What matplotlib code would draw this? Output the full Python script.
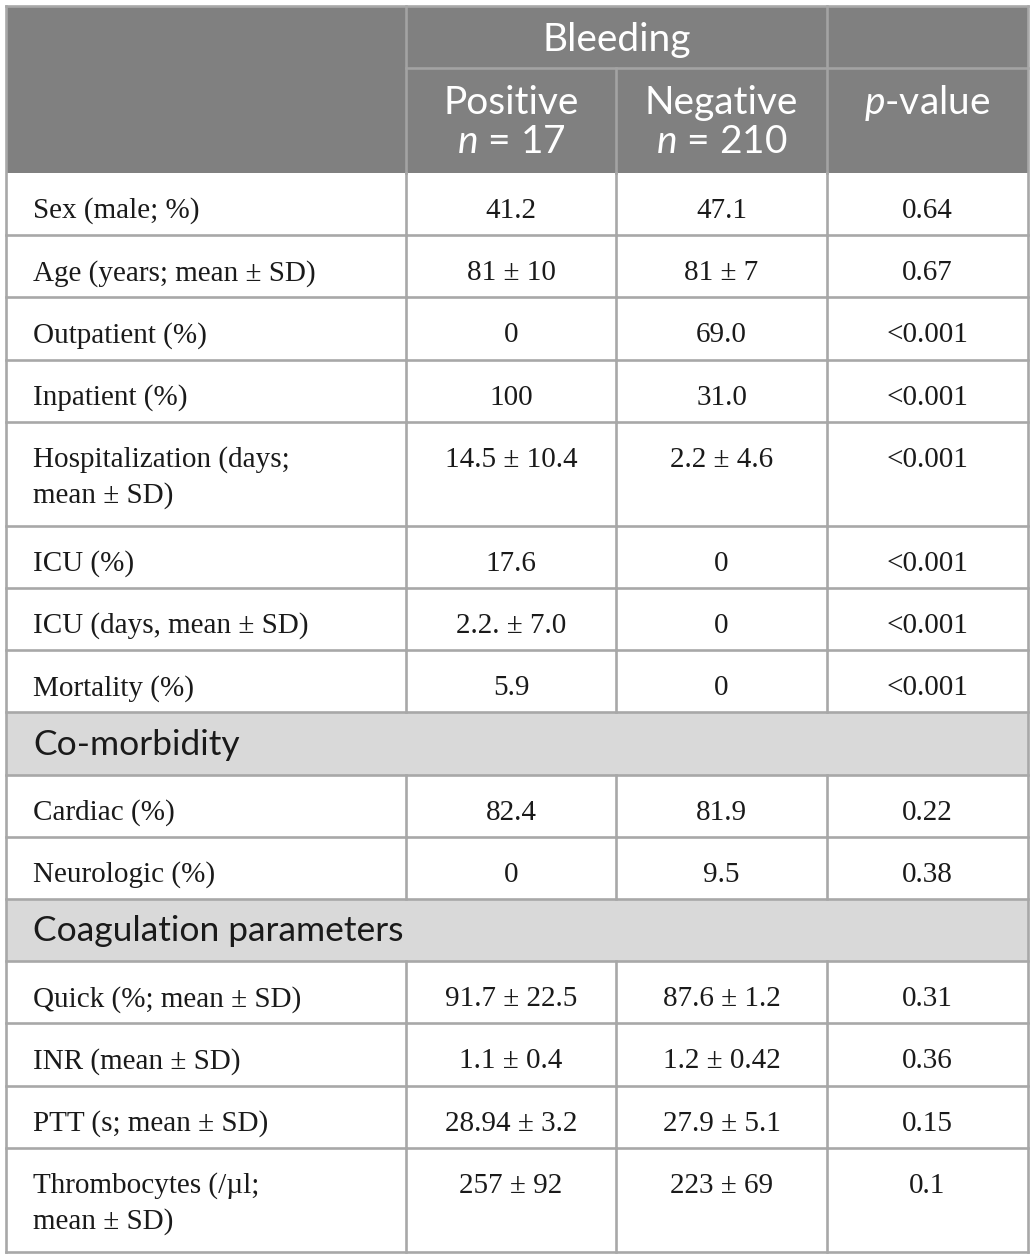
import matplotlib
matplotlib.use("Agg")
import matplotlib.pyplot as plt
from matplotlib.patches import Rectangle

# ---- table content ----
group_label = "Bleeding"
col_heads = ["Positive", "Negative"]
col_ns = ["17", "210"]

row_labels = [
    "Sex (male; %)",
    "Age (years; mean \u00b1 SD)",
    "Outpatient (%)",
    "Inpatient (%)",
    "Hospitalization (days;\nmean \u00b1 SD)",
    "ICU (%)",
    "ICU (days, mean \u00b1 SD)",
    "Mortality (%)",
    "Co-morbidity",
    "Cardiac (%)",
    "Neurologic (%)",
    "Coagulation parameters",
    "Quick (%; mean \u00b1 SD)",
    "INR (mean \u00b1 SD)",
    "PTT (s; mean \u00b1 SD)",
    "Thrombocytes (/\u00b5l;\nmean \u00b1 SD)",
]
positive = ["41.2", "81 \u00b1 10", "0", "100", "14.5 \u00b1 10.4", "17.6", "2.2. \u00b1 7.0", "5.9",
            None, "82.4", "0", None,
            "91.7 \u00b1 22.5", "1.1 \u00b1 0.4", "28.94 \u00b1 3.2", "257 \u00b1 92"]
negative = ["47.1", "81 \u00b1 7", "69.0", "31.0", "2.2 \u00b1 4.6", "0", "0", "0",
            None, "81.9", "9.5", None,
            "87.6 \u00b1 1.2", "1.2 \u00b1 0.42", "27.9 \u00b1 5.1", "223 \u00b1 69"]
p_values = ["0.64", "0.67", "<0.001", "<0.001", "<0.001", "<0.001", "<0.001", "<0.001",
            None, "0.22", "0.38", None,
            "0.31", "0.36", "0.15", "0.1"]

# ---- layout (pixels) ----
W, H = 1035, 1258
col_x = [6, 406, 616, 827, 1028]
top, head1, head2 = 6, 68, 173
single_h, double_h = 62.2, 104

header_bg = "#808080"
section_bg = "#d9d9d9"
line_col = "#a8a8a8"
head_line = "#a3a3a3"
lw = 1.9

plt.rcParams["mathtext.fontset"] = "custom"
plt.rcParams["mathtext.rm"] = "Lato"
plt.rcParams["mathtext.it"] = "Lato:italic"

sans = "Lato"
serif = "Liberation Serif"
txt_col = "#1a1a1a"

fig = plt.figure(figsize=(W / 100, H / 100), dpi=100)
ax = fig.add_axes([0, 0, 1, 1])
ax.set_xlim(0, W)
ax.set_ylim(H, 0)
ax.axis("off")

# header background
ax.add_patch(Rectangle((col_x[0], top), col_x[-1] - col_x[0], head2 - top,
                       facecolor=header_bg, edgecolor="none"))

# header grid
ax.plot([col_x[1], col_x[-1]], [head1, head1], color=head_line, lw=lw)
for x in (col_x[1], col_x[3]):
    ax.plot([x, x], [top, head2], color=head_line, lw=lw)
ax.plot([col_x[2], col_x[2]], [head1, head2], color=head_line, lw=lw)

hfs = 28
ax.text((col_x[1] + col_x[3]) / 2, (top + head1) / 2 + 3, group_label, color="white",
        fontsize=hfs, family=sans, ha="center", va="center")
for i, (name, n) in enumerate(zip(col_heads, col_ns)):
    cx = (col_x[i + 1] + col_x[i + 2]) / 2
    ax.text(cx, 103, name, color="white", fontsize=hfs, family=sans, ha="center", va="center")
    ax.text(cx, 142, r"$\mathit{n}$ = " + n, color="white", fontsize=hfs, family=sans,
            ha="center", va="center")
ax.text((col_x[3] + col_x[4]) / 2, 103, r"$\mathit{p}$-value", color="white", fontsize=hfs,
        family=sans, ha="center", va="center")

# body rows
bfs = 21
y = head2
for i, label in enumerate(row_labels):
    lines = label.split("\n")
    h = double_h if len(lines) > 1 else single_h
    if positive[i] is None:
        # section row
        ax.add_patch(Rectangle((col_x[0], y), col_x[-1] - col_x[0], h,
                               facecolor=section_bg, edgecolor="none"))
        ax.text(33, y + h / 2 + 1, label, fontsize=25.5, family=sans, color=txt_col,
                ha="left", va="center")
    else:
        for x in col_x[1:-1]:
            ax.plot([x, x], [y, y + h], color=line_col, lw=lw)
        for k, line in enumerate(lines):
            ax.text(33, y + 45 + 36 * k, line, fontsize=bfs, family=serif, color=txt_col,
                    ha="left", va="baseline")
        for j, vals in enumerate((positive, negative, p_values)):
            cx = (col_x[j + 1] + col_x[j + 2]) / 2
            ax.text(cx, y + 45, vals[i], fontsize=bfs, family=serif, color=txt_col,
                    ha="center", va="baseline")
    y += h
    ax.plot([col_x[0], col_x[-1]], [y, y], color=line_col, lw=lw)

# outer border
for x in (col_x[0], col_x[-1]):
    ax.plot([x, x], [top, y], color=line_col, lw=lw)
ax.plot([col_x[0], col_x[-1]], [top, top], color=line_col, lw=lw)

fig.savefig("out.png", dpi=100)
